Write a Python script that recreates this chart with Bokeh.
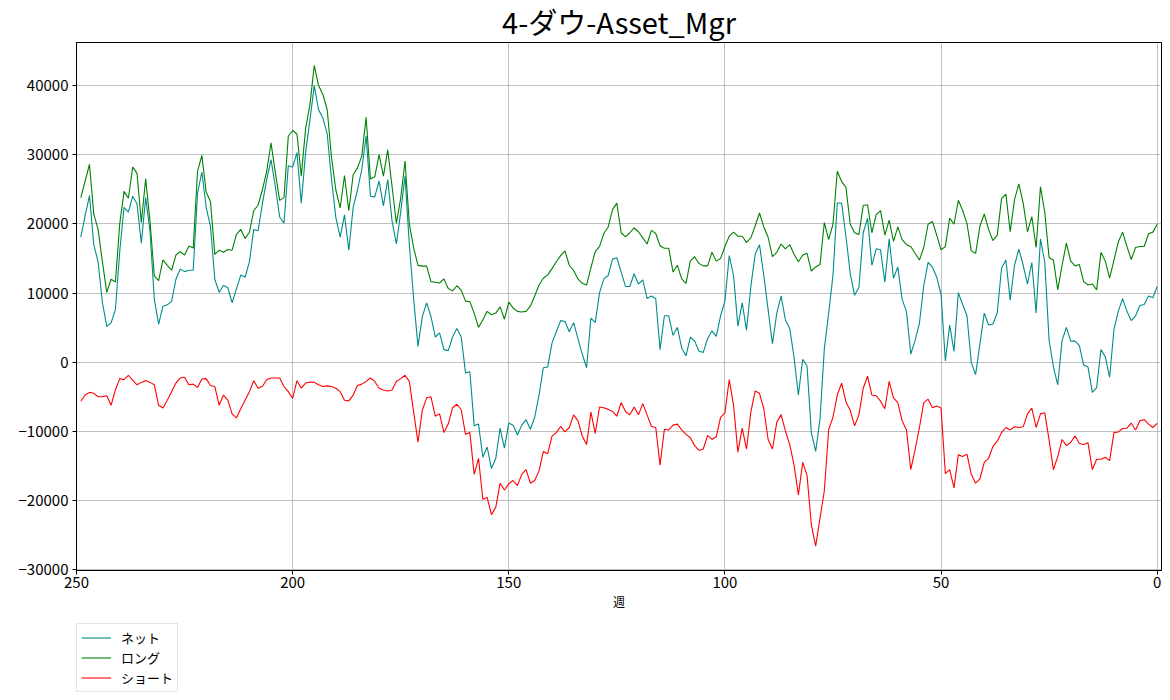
from bokeh.plotting import figure
from bokeh.models import Range1d, FixedTicker, Legend, LegendItem, ColumnDataSource, Label
from bokeh.layouts import column
from bokeh.embed import file_html
from bokeh.resources import INLINE

weeks = list(range(249, -1, -1))

long_vals = [
    23800, 26200, 28600, 21400, 19200, 14500, 10100, 12000, 11600, 20000,
    24700, 23700, 28200, 27300, 20200, 26500, 20400, 12500, 11800, 14800,
    14000, 13300, 15500, 16000, 15500, 16800, 16500, 27600, 29900, 24600,
    23200, 15600, 16200, 15900, 16300, 16200, 18500, 19200, 17900, 18800,
    21900, 22700, 24900, 27600, 31700, 27400, 23400, 23800, 32700, 33500,
    33000, 26900, 33800, 37200, 42900, 40000, 38700, 36500, 29600, 24900,
    22300, 27000, 21900, 27100, 28100, 29800, 35400, 26500, 26800, 30000,
    26900, 30700, 25400, 20100, 23700, 29100, 20000, 16500, 14000, 13900,
    13900, 11650, 11560, 11460, 12050, 10670, 10320, 11060, 10420, 8840,
    8740, 7110, 5040, 6120, 7360, 6860, 7110, 8000, 6220, 8690,
    7850, 7360, 7260, 7360, 8100, 9580, 11160, 12150, 12640, 13530,
    14520, 15410, 16100, 14020, 13280, 12050, 11410, 11160, 13630, 16000,
    16740, 18620, 19560, 22070, 23010, 18720, 18120, 18720, 19410, 18860,
    17980, 17090, 19060, 18620, 16840, 16490, 16490, 13040, 14020, 12050,
    11410, 14620, 15260, 14270, 13930, 13930, 15900, 14620, 15010, 16740,
    18220, 18810, 18220, 18220, 17330, 17980, 19700, 21580, 19560, 18070,
    15260, 15900, 17090, 16400, 16990, 15600, 14520, 15510, 15750, 13190,
    13780, 14120, 20200, 17730, 19950, 27600, 26120, 25280, 19950, 18720,
    18470, 22670, 22770, 18720, 21330, 21930, 18370, 20540, 17480, 19560,
    17730, 16990, 16740, 15750, 14770, 16590, 19950, 20350, 18370, 16250,
    16740, 20840, 19950, 23410, 21930, 20050, 16100, 15750, 19700, 21430,
    19210, 17580, 18370, 23650, 24300, 18860, 23510, 25780, 23010, 18860,
    21040, 16590, 25380, 21680, 15110, 14770, 10470, 14020, 17230, 14620,
    13930, 14120, 11650, 11160, 11310, 10470, 15900, 14620, 12150, 14770,
    17380, 18810, 16740, 14860, 16590, 16740, 16740, 18570, 18810, 19950,
]

short_vals = [
    -5630, -4740, -4350, -4490, -4990, -4990, -4840, -6220, -4000, -2370,
    -2520, -1880, -2620, -3260, -2910, -2620, -2910, -3260, -6220, -6620,
    -5480, -4250, -3010, -2270, -2170, -3260, -3160, -3650, -2420, -2370,
    -3360, -3510, -6220, -4740, -5480, -7460, -8050, -6720, -5480, -4250,
    -2670, -3750, -3510, -2520, -2270, -2270, -2270, -3510, -4250, -5230,
    -2670, -3750, -3010, -2860, -2910, -3260, -3510, -3410, -3510, -3750,
    -4250, -5480, -5580, -4740, -3360, -3160, -2770, -2270, -2770, -3750,
    -4000, -4150, -4000, -2770, -2370, -1880, -2770, -7210, -11560, -6960,
    -5140, -4990, -7800, -7460, -10170, -8940, -6570, -6070, -6860, -10420,
    -10170, -16200, -13880, -19800, -19560, -22020, -20940, -17480, -18470, -17580,
    -17090, -17830, -16200, -15510, -17480, -17090, -15700, -12890, -13230, -10670,
    -10170, -9280, -10070, -9430, -7600, -8440, -10670, -11900, -7210, -10270,
    -6470, -6570, -6810, -7110, -7800, -5830, -7110, -7600, -6470, -7600,
    -5980, -7600, -9280, -9430, -14860, -9680, -9780, -9090, -8940, -9780,
    -10420, -10910, -12050, -12740, -12540, -10570, -11160, -10770, -7950, -7310,
    -2520, -6220, -12990, -9530, -12540, -7210, -4150, -4490, -6720, -11160,
    -12540, -8690, -7560, -9930, -11900, -14860, -19160, -14470, -16350, -23510,
    -26570, -22520, -18570, -9780, -7950, -4740, -3010, -5730, -6960, -9190,
    -7600, -3750, -2020, -4740, -4840, -5630, -6720, -2770, -5140, -5830,
    -8440, -9780, -15510, -12640, -9430, -5830, -5330, -6570, -6320, -6620,
    -16100, -15510, -18170, -13380, -13630, -13280, -16200, -17480, -16840, -14470,
    -13880, -12150, -11410, -10170, -9430, -9780, -9330, -9430, -9330, -7460,
    -6620, -9430, -7460, -7310, -11260, -15510, -13630, -11160, -12050, -11560,
    -10670, -11750, -11900, -11650, -15510, -14020, -14020, -13730, -14220, -10170,
    -10070, -9580, -9530, -8790, -9780, -8440, -8300, -8940, -9430, -8840,
]

net_vals = [
    18100, 21200, 24100, 17000, 14500, 8600, 5200, 5700, 7600, 16000,
    22400, 21700, 24000, 22900, 17200, 23800, 19000, 9100, 5500, 8100,
    8300, 8800, 12000, 13500, 13100, 13300, 13300, 24400, 27500, 22400,
    19600, 12000, 10100, 11100, 10800, 8600, 10600, 12600, 12300, 14500,
    19200, 19000, 22900, 26400, 29300, 25400, 21000, 20100, 28400, 28200,
    30300, 23000, 30300, 35000, 40000, 36500, 35300, 33000, 26400, 20900,
    18100, 21300, 16200, 22400, 24900, 27900, 32700, 24000, 23900, 26200,
    22600, 26400, 20400, 17100, 21700, 26900, 17000, 9100, 2300, 6600,
    8590, 6620, 3650, 4250, 1830, 1680, 3650, 4890, 3650, -1530,
    -1380, -9190, -8940, -13730, -12250, -15360, -13880, -9530, -12400, -8790,
    -9090, -10520, -9090, -8300, -9680, -7950, -4740, -790, -690, 2770,
    4400, 6020, 5880, 4400, 5730, 3410, 1190, -790, 6370, 5730,
    10070, 12050, 12540, 14910, 15110, 13040, 10960, 10960, 12790, 11310,
    11900, 9230, 9580, 9190, 1830, 6720, 6720, 3900, 5040, 2070,
    940, 3650, 3060, 1580, 1430, 3410, 4540, 3750, 6720, 8840,
    15410, 12540, 5230, 8590, 4640, 10960, 15600, 16990, 12540, 7600,
    2670, 7110, 9580, 6120, 4890, 690, -4740, 440, -540, -10170,
    -12890, -8200, 1930, 7110, 12540, 23010, 23010, 18220, 12790, 9680,
    10810, 18720, 20840, 14020, 16400, 16250, 11560, 17830, 12150, 13780,
    9090, 7360, 1190, 3160, 5630, 11060, 14420, 13780, 12300, 9830,
    200, 5380, 1580, 10070, 8350, 6720, -50, -1780, 2670, 7110,
    5380, 5530, 7110, 13630, 14770, 8990, 14020, 16350, 14020, 11310,
    14420, 7110, 17830, 14420, 3160, -690, -3260, 3160, 5040, 3060,
    3060, 2420, -400, -690, -4350, -3650, 1830, 790, -2170, 4740,
    7360, 9190, 7360, 6020, 6720, 8200, 8350, 9580, 9330, 10960,
]

x_ticks = [250, 200, 150, 100, 50, 0]
y_ticks = [-30000, -20000, -10000, 0, 10000, 20000, 30000, 40000]
series_names = ["ネット", "ロング", "ショート"]
series_colors = ["#008b8b", "#008000", "#ff0000"]
title_text = "4-ダウ-Asset_Mgr"
x_label = "週"

FONT = "Noto Sans CJK JP"
TOTAL_W = 1162

# ---- title strip (its frame lines up with the chart frame) ----
pt = figure(width=TOTAL_W, height=41, x_range=Range1d(0, 1), y_range=Range1d(0, 1),
            x_axis_type=None, y_axis_type=None, output_backend="svg", toolbar_location=None,
            min_border=0)
pt.outline_line_color = None
pt.add_layout(Label(x=0.5, y=21, y_units="screen", text=title_text,
                    text_font=FONT, text_font_size="29px", text_color="#000000",
                    text_align="center", text_baseline="middle"))

# ---- main chart ----
src = ColumnDataSource(dict(week=weeks, net=net_vals, long=long_vals, short=short_vals))

p = figure(
    frame_width=1085, frame_height=528,
    x_range=Range1d(250, -1), y_range=Range1d(-30100, 46220),
    output_backend="svg", toolbar_location=None,
    min_border_left=76, min_border_right=1, min_border_top=1, min_border_bottom=50,
)

p.line("week", "net", source=src, line_color=series_colors[0], line_width=1.1)
p.line("week", "long", source=src, line_color=series_colors[1], line_width=1.1)
p.line("week", "short", source=src, line_color=series_colors[2], line_width=1.1)

p.xaxis.ticker = FixedTicker(ticks=x_ticks)
p.yaxis.ticker = FixedTicker(ticks=y_ticks)
p.yaxis.major_label_overrides = {t: (("\u2212" + str(-t)) if t < 0 else str(t)) for t in y_ticks}
for ax in (p.xaxis, p.yaxis):
    ax.major_label_text_font = FONT
    ax.major_label_text_font_size = "15px"
    ax.major_label_text_color = "#000000"
    ax.axis_line_color = "#000000"
    ax.major_tick_line_color = "#000000"
    ax.major_tick_out = 4
    ax.major_tick_in = 0
    ax.minor_tick_line_color = None
p.xaxis.axis_label = x_label
p.xaxis.axis_label_text_font = FONT
p.xaxis.axis_label_text_font_size = "12px"
p.xaxis.axis_label_text_font_style = "normal"
p.xaxis.axis_label_text_color = "#000000"
p.xaxis.axis_label_standoff = 2
p.xaxis.major_label_standoff = 2
p.yaxis.major_label_standoff = 4

p.grid.grid_line_color = "#b0b0b0"
p.grid.grid_line_width = 0.8
p.outline_line_color = "#000000"
p.outline_line_alpha = 1
p.outline_line_width = 1
p.background_fill_color = "white"
p.border_fill_color = "white"

# ---- legend strip ----
pl = figure(width=TOTAL_W, height=76, x_range=Range1d(0, 1), y_range=Range1d(0, 1),
            x_axis_type=None, y_axis_type=None, output_backend="svg", toolbar_location=None,
            min_border_left=76, min_border_top=3, min_border_right=0, min_border_bottom=0)
pl.outline_line_color = None
items = []
for name, col in zip(series_names, series_colors):
    # swatch renderer only: its points lie outside the strip's visible range
    r = pl.line([5, 6], [5, 6], line_color=col, line_width=1.1)
    items.append(LegendItem(label=name, renderers=[r]))
legend = Legend(
    items=items, location="top_left", orientation="vertical",
    label_text_font=FONT, label_text_font_size="13px", label_text_color="#000000",
    glyph_width=30, glyph_height=19, label_height=19, spacing=1,
    label_standoff=10, padding=4, margin=0,
    border_line_color="#cccccc", border_line_width=1,
    background_fill_color="white", background_fill_alpha=1.0,
)
pl.add_layout(legend, "center")

layout = column(pt, p, pl, spacing=0)
open("out.html", "w").write(file_html(layout, INLINE))
